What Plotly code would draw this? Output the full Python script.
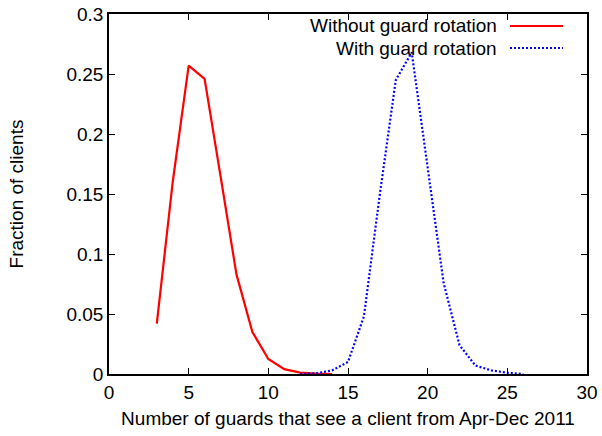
import plotly.graph_objects as go

# Data
without_x = [3, 4, 5, 6, 7, 8, 9, 10, 11, 12, 13, 14]
without_y = [0.042, 0.160, 0.257, 0.246, 0.165, 0.083, 0.035, 0.0125, 0.004, 0.0012, 0.0004, 0.0]

with_x = [12, 13, 14, 15, 16, 17, 18, 19, 20, 21, 22, 23, 24, 25, 26]
with_y = [0.0, 0.0005, 0.003, 0.010, 0.048, 0.150, 0.245, 0.268, 0.172, 0.076, 0.024, 0.007, 0.003, 0.001, 0.0]

x_ticks = [0, 5, 10, 15, 20, 25, 30]
y_ticks = [0, 0.05, 0.1, 0.15, 0.2, 0.25, 0.3]
y_tick_labels = ["0", "0.05", "0.1", "0.15", "0.2", "0.25", "0.3"]

series_names = ["Without guard rotation", "With guard rotation"]
x_title = "Number of guards that see a client from Apr-Dec 2011"
y_title = "Fraction of clients"

FONT = "Liberation Sans, Arial, Helvetica, sans-serif"
FS = 19
RED = "#ff0000"
BLUE = "#0000ff"
BLUE_DASH = "2px,2px"

fig = go.Figure()
fig.add_trace(go.Scatter(x=without_x, y=without_y, mode="lines", name=series_names[0],
                         line=dict(color=RED, width=2.2), showlegend=False))
fig.add_trace(go.Scatter(x=with_x, y=with_y, mode="lines", name=series_names[1],
                         line=dict(color=BLUE, width=2.2, dash=BLUE_DASH), showlegend=False))

L, R, T, B = 109, 15, 14, 62
W, H = 602, 436
pw, ph = W - L - R, H - T - B

def px(xp):
    return (xp - L) / pw

def py(yp):
    return (H - B - yp) / ph

# gnuplot-style key: right-aligned text followed by a line sample
key_rows = [(series_names[0], 26, dict(color=RED, width=2.2)),
            (series_names[1], 48, dict(color=BLUE, width=2.2, dash=BLUE_DASH))]
for text, ypix, ln in key_rows:
    fig.add_annotation(x=px(499), y=py(ypix), xref="paper", yref="paper", text=text,
                       showarrow=False, xanchor="right", yanchor="middle",
                       font=dict(family=FONT, size=FS, color="black"))
    fig.add_shape(type="line", xref="paper", yref="paper",
                  x0=px(510), x1=px(563), y0=py(ypix), y1=py(ypix), line=ln)

axis_common = dict(showline=True, linecolor="#000000", linewidth=1.5, mirror="allticks",
                   ticks="inside", ticklen=6, tickcolor="#000000", tickwidth=1.2,
                   showgrid=False, zeroline=False, automargin=False,
                   tickfont=dict(family=FONT, size=FS, color="black"))

fig.update_xaxes(range=[0, 30], tickvals=x_ticks,
                 title=dict(text=x_title, font=dict(family=FONT, size=FS, color="black"), standoff=10),
                 **axis_common)
fig.update_yaxes(range=[0, 0.3], tickvals=y_ticks, ticktext=y_tick_labels,
                 title=dict(text=y_title, font=dict(family=FONT, size=FS, color="black"), standoff=38),
                 **axis_common)

fig.update_layout(width=W, height=H, margin=dict(l=L, r=R, t=T, b=B),
                  paper_bgcolor="white", plot_bgcolor="white")

fig.write_html("out.html", config={"displayModeBar": False},
               post_script="document.body.style.margin='0';document.body.style.padding='0';")
